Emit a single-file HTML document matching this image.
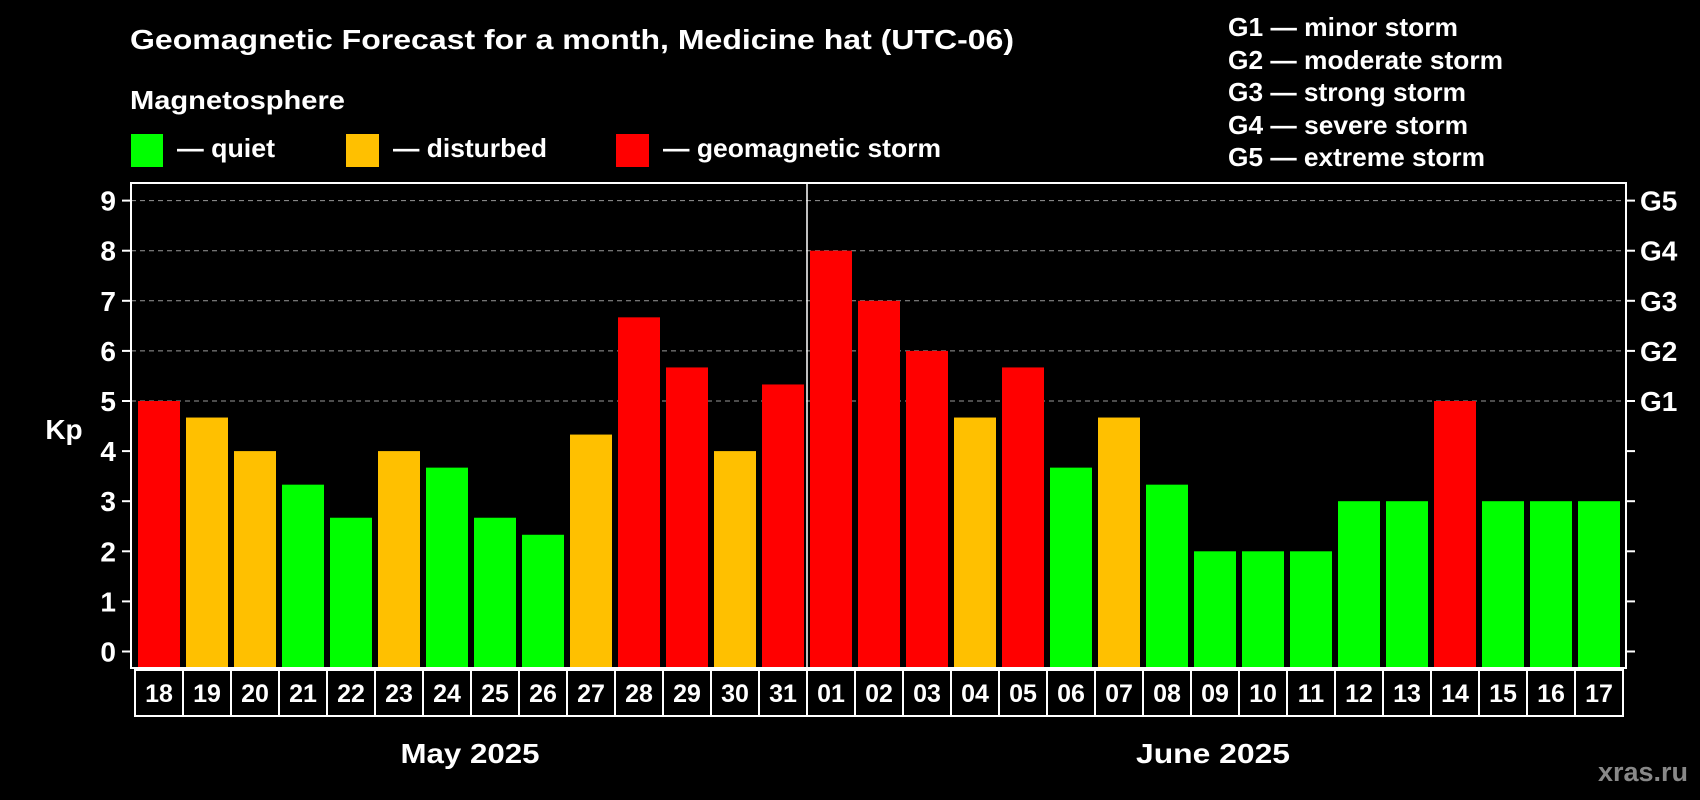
<!DOCTYPE html>
<html><head><meta charset="utf-8"><style>
html,body{margin:0;padding:0;background:#000;}
svg{display:block;font-family:"Liberation Sans",Arial,sans-serif;font-weight:bold;}
</style></head><body>
<svg id="chart" width="1700" height="800" viewBox="0 0 1700 800" xmlns="http://www.w3.org/2000/svg">
<rect x="0" y="0" width="1700" height="800" fill="#000"/>
<text x="130" y="49" fill="#fff" font-size="28" textLength="884" lengthAdjust="spacingAndGlyphs">Geomagnetic Forecast for a month, Medicine hat (UTC-06)</text>
<text x="130" y="109" fill="#fff" font-size="26" textLength="215" lengthAdjust="spacingAndGlyphs">Magnetosphere</text>
<rect x="131" y="134" width="32" height="33" fill="#00ff00"/>
<text x="177" y="157" fill="#fff" font-size="26" textLength="98" lengthAdjust="spacingAndGlyphs">— quiet</text>
<rect x="346" y="134" width="33" height="33" fill="#ffc000"/>
<text x="393" y="157" fill="#fff" font-size="26" textLength="154" lengthAdjust="spacingAndGlyphs">— disturbed</text>
<rect x="616" y="134" width="33" height="33" fill="#ff0000"/>
<text x="663" y="157" fill="#fff" font-size="26" textLength="278" lengthAdjust="spacingAndGlyphs">— geomagnetic storm</text>
<g fill="#fff" font-size="26">
<text x="1228" y="36" textLength="230" lengthAdjust="spacingAndGlyphs">G1 — minor storm</text>
<text x="1228" y="69" textLength="275" lengthAdjust="spacingAndGlyphs">G2 — moderate storm</text>
<text x="1228" y="101" textLength="238" lengthAdjust="spacingAndGlyphs">G3 — strong storm</text>
<text x="1228" y="134" textLength="240" lengthAdjust="spacingAndGlyphs">G4 — severe storm</text>
<text x="1228" y="166" textLength="257" lengthAdjust="spacingAndGlyphs">G5 — extreme storm</text>
</g>
<g id="grid"></g>
<g id="bars"></g>
<g id="axes"></g>
<text x="64" y="439" fill="#fff" font-size="28" text-anchor="middle">Kp</text>
<text x="470" y="763" fill="#fff" font-size="28" text-anchor="middle" textLength="139" lengthAdjust="spacingAndGlyphs">May 2025</text>
<text x="1213" y="763" fill="#fff" font-size="28" text-anchor="middle" textLength="154" lengthAdjust="spacingAndGlyphs">June 2025</text>
<text x="1688" y="781" fill="#888" font-size="27" text-anchor="end">xras.ru</text>
</svg>
<script>
const days = ["18","19","20","21","22","23","24","25","26","27","28","29","30","31","01","02","03","04","05","06","07","08","09","10","11","12","13","14","15","16","17"];
const kpValues = [5,4.67,4,3.33,2.67,4,3.67,2.67,2.33,4.33,6.67,5.67,4,5.33,8,7,6,4.67,5.67,3.67,4.67,3.33,2,2,2,3,3,5,3,3,3];
const yTicks = [0,1,2,3,4,5,6,7,8,9];
const gLabels = ["","","","","","G1","G2","G3","G4","G5"];
const monthSplitIndex = 14;

const NS="http://www.w3.org/2000/svg";
const L=131,R=1626,T=183,B=668;
const y0=651.5,unit=50.1;
const step=48;
const yS=v=>y0-v*unit;
const xS=i=>138+i*step;
function mk(tag,attrs,parent,txt){const e=document.createElementNS(NS,tag);for(const k in attrs)e.setAttribute(k,attrs[k]);if(txt!==undefined)e.textContent=txt;parent.appendChild(e);return e;}
const grid=document.getElementById('grid'),bars=document.getElementById('bars'),axes=document.getElementById('axes');
yTicks.forEach((t,i)=>{
  const y=yS(t);
  if(t>=5){const g=mk('line',{x1:L,x2:R,y1:y,y2:y,stroke:'#999','stroke-width':1,'stroke-dasharray':'5,4'},grid);
    
    }
  const tl=mk('line',{x1:L-9,x2:L,y1:y,y2:y,stroke:'#fff','stroke-width':2},axes);
  
  
  const tr=mk('line',{x1:R,x2:R+9,y1:y,y2:y,stroke:'#fff','stroke-width':2},axes);
  
  
  const lab=mk('text',{x:116,y:y+10,fill:'#fff','font-size':28,'text-anchor':'end'},axes,String(t));
  
  
  if(gLabels[i]){const gl=mk('text',{x:1640,y:y+10,fill:'#fff','font-size':28},axes,gLabels[i]);
    
    }
});
kpValues.forEach((v,i)=>{
  const c=v>=5?'#ff0000':(v>=4?'#ffc000':'#00ff00');
  const b=mk('rect',{x:xS(i),y:yS(v),width:42,height:B-yS(v),fill:c},bars);
  
  
  const bx=mk('rect',{x:135+i*step,y:670,width:step,height:46,fill:'none',stroke:'#fff','stroke-width':2},axes);
  
  
  const t=mk('text',{x:135+i*step+step/2,y:702,fill:'#fff','font-size':25,'text-anchor':'middle'},axes,days[i]);
  
  
});
const fr=mk('rect',{x:L,y:T,width:R-L,height:B-T,fill:'none',stroke:'#fff','stroke-width':2},axes);


const sx=xS(monthSplitIndex)-3;
const sp=mk('line',{x1:sx,x2:sx,y1:T,y2:B,stroke:'#fff','stroke-width':1.5},axes);


</script>
</body></html>
